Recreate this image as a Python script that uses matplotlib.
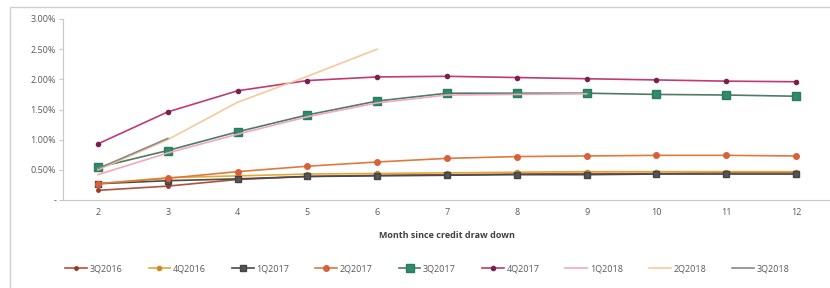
import matplotlib
matplotlib.use("Agg")
import matplotlib.pyplot as plt
from matplotlib.patches import Rectangle
from matplotlib.ticker import FuncFormatter
import numpy as np

months = [2, 3, 4, 5, 6, 7, 8, 9, 10, 11, 12]

s_3Q2016 = [0.16, 0.23, 0.34, 0.39, 0.41, 0.42, 0.43, 0.44, 0.44, 0.45, 0.45]
s_4Q2016 = [0.27, 0.37, 0.40, 0.43, 0.44, 0.45, 0.46, 0.47, 0.47, 0.47, 0.47]
s_1Q2017 = [0.27, 0.32, 0.35, 0.39, 0.40, 0.41, 0.42, 0.42, 0.43, 0.43, 0.43]
s_2Q2017 = [0.27, 0.36, 0.47, 0.56, 0.63, 0.69, 0.72, 0.73, 0.74, 0.74, 0.73]
s_3Q2017 = [0.54, 0.82, 1.13, 1.41, 1.64, 1.77, 1.77, 1.77, 1.75, 1.74, 1.72]
s_4Q2017 = [0.93, 1.46, 1.81, 1.98, 2.04, 2.05, 2.03, 2.01, 1.99, 1.97, 1.96]
s_1Q2018 = [0.42, 0.78, 1.09, 1.38, 1.61, 1.74, 1.75, 1.76]
s_2Q2018 = [0.50, 1.00, 1.62, 2.05, 2.50]
s_3Q2018 = [0.52, 1.02]

series = [
    ("3Q2016", s_3Q2016, dict(color="#B0533A", marker="o", ms=2.5, mfc="#9A3A2A", mec="#9A3A2A")),
    ("4Q2016", s_4Q2016, dict(color="#E3A83A", marker="o", ms=3, mfc="#C98A20", mec="#C98A20")),
    ("1Q2017", s_1Q2017, dict(color="#4A4A4A", marker="s", ms=4.5, mfc="#555555", mec="#444444")),
    ("2Q2017", s_2Q2017, dict(color="#E07A3C", marker="o", ms=4, mfc="#D8603A", mec="#D8603A")),
    ("3Q2017", s_3Q2017, dict(color="#4F7A68", marker="s", ms=6, mfc="#2E8C6A", mec="#2E7A5E")),
    ("4Q2017", s_4Q2017, dict(color="#C23A72", marker="o", ms=3, mfc="#7A2050", mec="#7A2050")),
    ("1Q2018", s_1Q2018, dict(color="#EFA9B9")),
    ("2Q2018", s_2Q2018, dict(color="#F6C99C")),
    ("3Q2018", s_3Q2018, dict(color="#8A8A8A")),
]

fig = plt.figure(figsize=(8.3, 2.88), dpi=100)
plt.rcParams['font.family'] = ['Open Sans', 'DejaVu Sans']
ax = fig.add_axes([63/830, 1 - 200/288, (831 - 63)/830, (200 - 19)/288])

# chart frame
fig.patches.append(Rectangle((10/830, -0.2), 1.2, 1 - 7/288 + 0.2, transform=fig.transFigure,
                             fill=False, edgecolor="#D0D0D0", linewidth=1.0, zorder=0))

for name, vals, st in series:
    x = months[:len(vals)]
    y = np.array(vals) / 100.0
    ax.plot(x, y, label=name, lw=1.2, **st)

ax.set_xlim(1.5, 12.5)
ax.set_ylim(0, 0.03)
ax.set_xticks(months)
ax.set_yticks(np.arange(0, 0.0301, 0.005))
ax.yaxis.set_major_formatter(FuncFormatter(lambda v, p: "-" if abs(v) < 1e-9 else f"{v*100:.2f}%"))

for s in ["top", "right"]:
    ax.spines[s].set_visible(False)
ax.spines["left"].set_color("#C8C8C8")
ax.spines["bottom"].set_color("#C8C8C8")
ax.tick_params(axis="y", colors="#C8C8C8", labelcolor="#595959", labelsize=6.5, length=3, pad=2)
ax.tick_params(axis="x", length=0, labelcolor="#595959", labelsize=6.5, pad=6)

ax.set_xlabel("Month since credit draw down", fontsize=6.5, fontweight="bold", color="#404040", labelpad=10)

leg = fig.legend(loc="center", bbox_to_anchor=(0.515, 0.066), ncol=9, frameon=False,
                 fontsize=6.5, handlelength=2.4, columnspacing=2.9, handletextpad=0.3)
for t in leg.get_texts():
    t.set_color("#595959")

fig.savefig("out.png", dpi=100)
